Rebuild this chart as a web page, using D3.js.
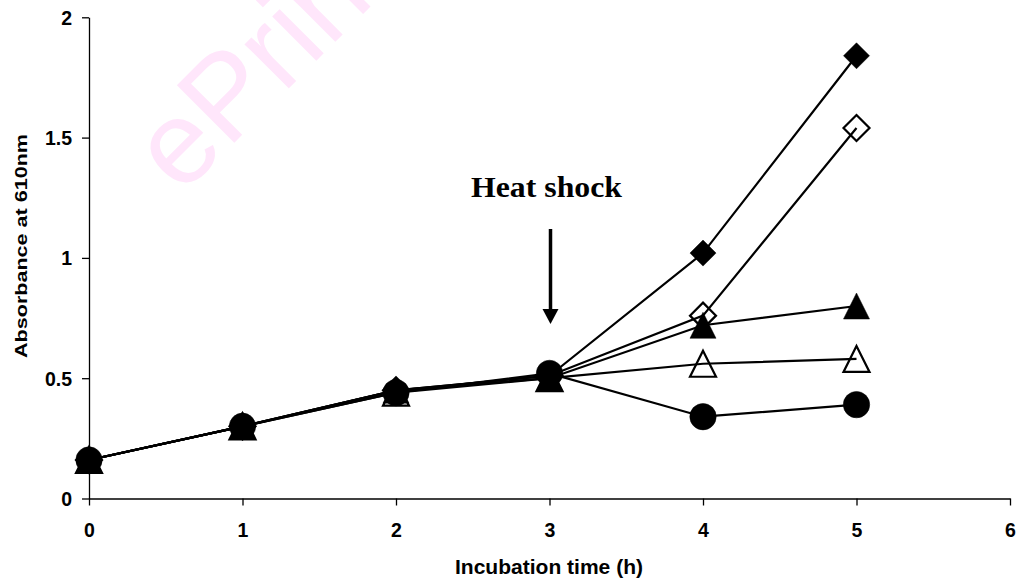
<!DOCTYPE html>
<html>
<head>
<meta charset="utf-8">
<script src="https://cdnjs.cloudflare.com/ajax/libs/d3/7.8.5/d3.min.js"></script>
<style>
  html, body { margin: 0; padding: 0; background: #fff; }
  svg { display: block; }
</style>
</head>
<body>
<script>
// Incubation time (h)
const hours = [0, 1, 2, 3, 4, 5];

// Absorbance at 610 nm for each culture
const filledDiamond  = [0.16, 0.30, 0.45, 0.51, 1.02, 1.84];
const openDiamond    = [0.16, 0.30, 0.45, 0.51, 0.76, 1.54];
const filledTriangle = [0.16, 0.30, 0.45, 0.50, 0.72, 0.80];
const openTriangle   = [0.16, 0.30, 0.44, 0.50, 0.56, 0.58];
const filledCircle   = [0.16, 0.30, 0.44, 0.52, 0.34, 0.39];

const xTicks = [0, 1, 2, 3, 4, 5, 6];
const yTicks = [0, 0.5, 1, 1.5, 2];
const yTickLabels = ["0", "0.5", "1", "1.5", "2"];

// drawing order: diamonds first, circles on top
const series = [
  { values: filledDiamond,  shape: "diamond",  filled: true },
  { values: openDiamond,    shape: "diamond",  filled: false },
  { values: filledTriangle, shape: "triangle", filled: true },
  { values: openTriangle,   shape: "triangle", filled: false },
  { values: filledCircle,   shape: "circle",   filled: true }
];

const W = 1016, H = 581;
const svg = d3.select("body").append("svg").attr("width", W).attr("height", H);
const SANS = "Liberation Sans, Arial, sans-serif";

// faint repository watermark
svg.append("text")
  .attr("transform", "translate(181,196) rotate(-45)")
  .attr("font-family", SANS)
  .attr("font-size", 118)
  .attr("fill", "#ffe6fb")
  .text("ePrints");

const x = d3.scaleLinear().domain([0, 6]).range([89, 1010]);
const y = d3.scaleLinear().domain([0, 2]).range([498.5, 17.3]);

// axes
const xAxis = d3.axisBottom(x).tickValues(xTicks).tickSize(7).tickSizeOuter(0).tickFormat(d3.format("d"));
const gx = svg.append("g").attr("transform", `translate(0,${y(0)})`).call(xAxis);
gx.select(".domain").attr("stroke", "#000").attr("stroke-width", 1.3);
gx.selectAll(".tick line").attr("stroke", "#000").attr("stroke-width", 1.3);
gx.selectAll(".tick text")
  .attr("y", 38.5).attr("dy", 0)
  .attr("font-family", SANS)
  .attr("font-weight", "bold").attr("font-size", 19.5).attr("fill", "#000");

const yAxis = d3.axisLeft(y).tickValues(yTicks).tickSize(7).tickSizeOuter(0)
  .tickFormat((d, i) => yTickLabels[i]);
const gy = svg.append("g").attr("transform", `translate(${x(0)},0)`).call(yAxis);
gy.select(".domain").attr("stroke", "#000").attr("stroke-width", 1.3);
gy.selectAll(".tick line").attr("stroke", "#000").attr("stroke-width", 1.3);
gy.selectAll(".tick text")
  .attr("x", -17).attr("dy", "0.36em")
  .attr("font-family", SANS)
  .attr("font-weight", "bold").attr("font-size", 19.5).attr("fill", "#000");

// axis titles
svg.append("text")
  .attr("x", 549).attr("y", 574)
  .attr("text-anchor", "middle")
  .attr("font-family", SANS)
  .attr("font-weight", "bold").attr("font-size", 21)
  .attr("textLength", 188).attr("lengthAdjust", "spacingAndGlyphs")
  .text("Incubation time (h)");

svg.append("text")
  .attr("transform", "translate(27,246) rotate(-90)")
  .attr("text-anchor", "middle")
  .attr("font-family", SANS)
  .attr("font-weight", "bold").attr("font-size", 17)
  .attr("textLength", 224).attr("lengthAdjust", "spacingAndGlyphs")
  .text("Absorbance at 610nm");

// marker shapes (centred on the data point)
function markerPath(shape) {
  if (shape === "circle") {
    const r = 13.2;
    return `M${-r},0A${r},${r} 0 1,0 ${r},0A${r},${r} 0 1,0 ${-r},0Z`;
  }
  if (shape === "diamond") {
    const h = 13;
    return `M0,${-h}L${h},0L0,${h}L${-h},0Z`;
  }
  // triangle
  const w = 13, t = 13;
  return `M0,${-t}L${w},${t}L${-w},${t}Z`;
}

// each series: connecting line, then its markers
const line = d3.line().x((d, i) => x(hours[i])).y(d => y(d));
series.forEach(s => {
  const g = svg.append("g");
  g.append("path")
    .attr("d", line(s.values))
    .attr("fill", "none")
    .attr("stroke", "#000")
    .attr("stroke-width", 2.2);
  g.selectAll("path.marker")
    .data(s.values)
    .join("path")
    .attr("class", "marker")
    .attr("d", markerPath(s.shape))
    .attr("transform", (d, i) => `translate(${x(hours[i])},${y(d)})`)
    .attr("fill", s.filled ? "#000" : "none")
    .attr("stroke", "#000")
    .attr("stroke-width", s.filled ? 0.5 : 2.2);
});

// heat shock annotation
svg.append("text")
  .attr("x", 546.5).attr("y", 197)
  .attr("text-anchor", "middle")
  .attr("font-family", "Liberation Serif, Times New Roman, serif")
  .attr("font-weight", "bold").attr("font-size", 29)
  .attr("textLength", 151).attr("lengthAdjust", "spacingAndGlyphs")
  .text("Heat shock");

const ax = x(3) + 1;
svg.append("line")
  .attr("x1", ax).attr("x2", ax)
  .attr("y1", 229).attr("y2", 312)
  .attr("stroke", "#000").attr("stroke-width", 3.5);
svg.append("path")
  .attr("d", `M${ax - 8},${309} L${ax + 8},${309} L${ax},${324} Z`)
  .attr("fill", "#000");
</script>
</body>
</html>
